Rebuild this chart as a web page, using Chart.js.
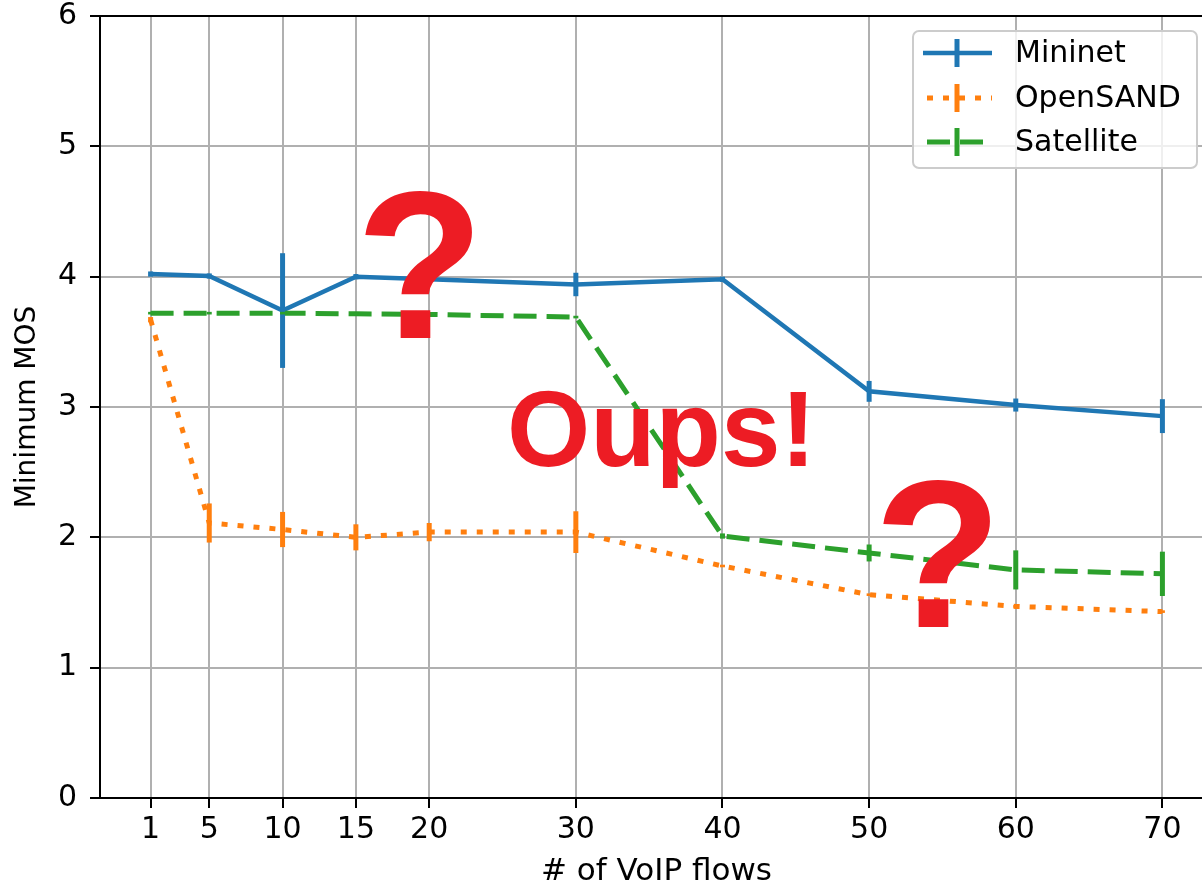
<!DOCTYPE html>
<html>
<head>
<meta charset="utf-8">
<script src="https://cdn.jsdelivr.net/npm/chart.js@4.4.1/dist/chart.umd.min.js"></script>
<style>
  html, body { margin: 0; padding: 0; background: #fff; overflow: hidden; }
  #wrap { position: relative; width: 1216px; height: 884px; }
</style>
</head>
<body>
<div id="wrap"><canvas id="myChart"></canvas></div>
<script>
const flows = [1, 5, 10, 15, 20, 30, 40, 50, 60, 70];
const mininet = [4.02, 4.005, 3.74, 4.0, 3.98, 3.94, 3.98, 3.12, 3.015, 2.93];
const mininetErr = [0.02, 0.02, 0.44, 0.02, 0.02, 0.09, 0.02, 0.08, 0.05, 0.13];
const opensand = [3.67, 2.11, 2.06, 2.0, 2.04, 2.04, 1.78, 1.56, 1.47, 1.43];
const opensandErr = [0.02, 0.15, 0.135, 0.1, 0.07, 0.16, 0.01, 0.01, 0.01, 0.01];
const satellite = [3.72, 3.72, 3.72, 3.715, 3.71, 3.69, 2.01, 1.88, 1.75, 1.72];
const satelliteErr = [0.01, 0.01, 0.01, 0.01, 0.01, 0.01, 0.02, 0.065, 0.15, 0.17];
const seriesNames = ['Mininet', 'OpenSAND', 'Satellite'];
const notes = ['?', 'Oups!', '?'];

const FONT = 'DejaVu Sans';
const RED = '#ed1c24';

function points(vals) {
  return flows.map((f, i) => ({ x: f, y: vals[i] }));
}

const errors = [mininetErr, opensandErr, satelliteErr];

// error bars + frame + legend + the red annotations
const extras = {
  id: 'extras',
  afterDatasetsDraw(chart) {
    const ctx = chart.ctx;
    const xs = chart.scales.x, ys = chart.scales.y;
    chart.data.datasets.forEach((ds, di) => {
      ctx.save();
      ctx.strokeStyle = ds.borderColor;
      ctx.lineWidth = 5;
      ctx.lineCap = 'butt';
      ds.data.forEach((p, i) => {
        const e = errors[di][i];
        const px = xs.getPixelForValue(p.x);
        ctx.beginPath();
        ctx.moveTo(px, ys.getPixelForValue(p.y - e));
        ctx.lineTo(px, ys.getPixelForValue(p.y + e));
        ctx.stroke();
      });
      ctx.restore();
    });
  },
  afterDraw(chart) {
    const ctx = chart.ctx;
    const a = chart.chartArea;
    ctx.save();
    // top + right spines
    ctx.strokeStyle = '#000';
    ctx.lineWidth = 2;
    ctx.beginPath();
    ctx.moveTo(a.left, a.top);
    ctx.lineTo(a.right, a.top);
    ctx.lineTo(a.right, a.bottom);
    ctx.stroke();

    // legend
    const bx = 913, by = 31, bw = 284, bh = 137, r = 6;
    ctx.beginPath();
    ctx.roundRect(bx, by, bw, bh, r);
    ctx.fillStyle = 'rgba(255,255,255,0.8)';
    ctx.fill();
    ctx.strokeStyle = '#cccccc';
    ctx.lineWidth = 2;
    ctx.stroke();

    const rows = [53, 98, 142];
    chart.data.datasets.forEach((ds, i) => {
      const y = rows[i];
      ctx.strokeStyle = ds.borderColor;
      ctx.lineWidth = ds.borderWidth;
      ctx.lineCap = 'butt';
      ctx.setLineDash(ds.borderDash || []);
      ctx.beginPath();
      ctx.moveTo(i === 0 ? 923 : 927, y);
      ctx.lineTo(i === 2 ? 983 : 992, y);
      ctx.stroke();
      ctx.setLineDash([]);
      ctx.lineWidth = 5;
      ctx.beginPath();
      ctx.moveTo(957, y - 14);
      ctx.lineTo(957, y + 14);
      ctx.stroke();
      ctx.fillStyle = '#000';
      ctx.font = '30px "' + FONT + '"';
      ctx.textBaseline = 'middle';
      ctx.textAlign = 'left';
      ctx.fillText(ds.label, 1015, y + 1);
    });

    // red annotations
    ctx.fillStyle = RED;
    ctx.textBaseline = 'alphabetic';
    ctx.font = 'bold 210px "Liberation Sans"';
    ctx.textAlign = 'center';
    ctx.fillText(notes[0], 420, 338);
    ctx.fillText(notes[2], 938, 627);
    ctx.font = 'bold 107px "Liberation Sans"';
    ctx.textAlign = 'left';
    ctx.fillText(notes[1], 507, 466);
    ctx.restore();
  }
};

const ctx = document.getElementById('myChart').getContext('2d');

new Chart(ctx, {
  type: 'line',
  data: {
    datasets: [{
      label: seriesNames[0],
      data: points(mininet),
      borderColor: '#1f77b4',
      borderWidth: 4.5,
      order: 3
    }, {
      label: seriesNames[1],
      data: points(opensand),
      borderColor: '#ff7f0e',
      borderWidth: 5,
      borderDash: [6, 10],
      borderCapStyle: 'butt',
      order: 2
    }, {
      label: seriesNames[2],
      data: points(satellite),
      borderColor: '#2ca02c',
      borderWidth: 5,
      borderDash: [23, 10],
      borderCapStyle: 'butt',
      order: 1
    }]
  },
  options: {
    responsive: true,
    maintainAspectRatio: false,
    animation: false,
    layout: { padding: { top: 16, right: 3, left: 0, bottom: 0 } },
    elements: { point: { radius: 0 }, line: { tension: 0, fill: false } },
    plugins: { legend: { display: false }, tooltip: { enabled: false } },
    scales: {
      x: {
        type: 'linear',
        min: -2.45,
        max: 73.45,
        afterBuildTicks: s => { s.ticks = flows.map(v => ({ value: v })); },
        afterFit: s => { s.height = 86; s.paddingLeft = 0; s.paddingRight = 0; },
        grid: { color: '#b0b0b0', lineWidth: 2, tickColor: '#000', tickLength: 10 },
        border: { color: '#000', width: 2 },
        ticks: { font: { family: FONT, size: 30 }, color: '#000', padding: 4, maxRotation: 0, autoSkip: false },
        title: { display: true, text: '# of VoIP flows', color: '#000',
                 font: { family: FONT, size: 31, lineHeight: 0.8 }, padding: { top: 0, bottom: 0 } }
      },
      y: {
        min: 0,
        max: 6,
        afterFit: s => { s.width = 100; s.paddingTop = 0; s.paddingBottom = 0; },
        grid: { color: '#b0b0b0', lineWidth: 2, tickColor: '#000', tickLength: 10 },
        border: { color: '#000', width: 2 },
        ticks: { stepSize: 1, font: { family: FONT, size: 30 }, color: '#000', padding: 13 },
        title: { display: true, text: 'Minimum MOS', color: '#000',
                 font: { family: FONT, size: 28, lineHeight: 1 }, padding: { top: 14, bottom: 0 } }
      }
    }
  },
  plugins: [extras]
});
</script>
</body>
</html>
